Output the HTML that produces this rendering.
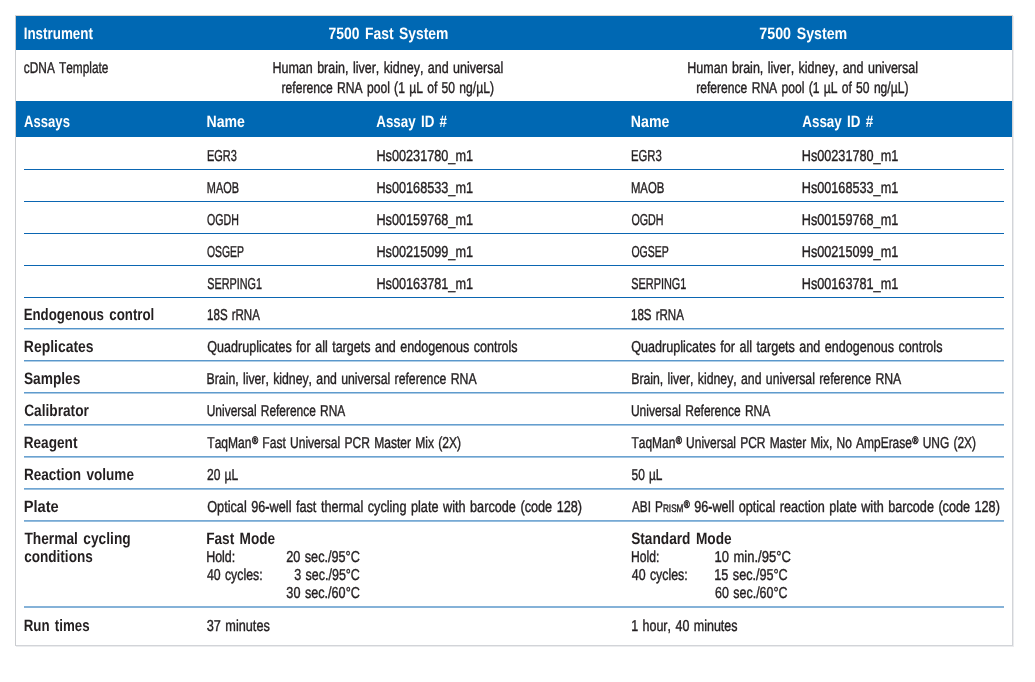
<!DOCTYPE html>
<html lang="en"><head><meta charset="utf-8"><title>7500 Fast System vs 7500 System</title>
<style>
html,body{margin:0;padding:0;background:#fff}
body{width:1035px;height:682px;position:relative;overflow:hidden;font-family:"Liberation Sans",sans-serif;font-size:15.8px;color:#231f20}
.box{position:absolute;left:15px;top:15px;width:996px;height:629px;border:1px solid #d2d4d8;border-top-color:#ddd6d0;border-left-color:#cacccf;box-sizing:content-box;box-shadow:1px 1px 0 #ebecee}
.band{position:absolute;left:16px;width:996px;background:#0068b3}
.ln{position:absolute;left:24px;width:980px;height:1px;background:#0b66b2}
.ll{position:absolute;left:24px;width:980px;height:0}
.t{position:absolute;left:0;top:0;word-spacing:1.2px;font-kerning:none;text-rendering:geometricPrecision;-webkit-text-stroke:0.4px currentColor;white-space:pre;line-height:20px;height:20px;transform-origin:0 0}
.t b{font-weight:700}
.b{font-weight:700;-webkit-text-stroke:0;font-size:16.5px;word-spacing:2px}
.w{color:#fff}
.r{font-size:11px;font-weight:700;position:relative;top:-4.5px;line-height:0;-webkit-text-stroke:0.5px currentColor;margin:0 0 0 0.5px}
.sc{font-size:11px}
</style></head><body>
<div class="box"></div>
<div class="band" style="top:16px;height:34px"></div>
<div class="band" style="top:101px;height:36px"></div>

<div class="ln" style="top:169px"></div>
<div class="ln" style="top:201px"></div>
<div class="ln" style="top:233px"></div>
<div class="ln" style="top:265px"></div>
<div class="ln" style="top:297px"></div>
<div class="ll" style="top:328px;border-top:1px solid #5494c9;border-bottom:1px solid #b6d1e8"></div>
<div class="ll" style="top:360px;border-top:1px solid #5a97cb;border-bottom:1px solid #b0cee6"></div>
<div class="ll" style="top:392px;border-top:1px solid #5f9bcd;border-bottom:1px solid #abcae4"></div>
<div class="ll" style="top:424px;border-top:1px solid #659ece;border-bottom:1px solid #a5c7e3"></div>
<div class="ll" style="top:456px;border-top:1px solid #6ba2d0;border-bottom:1px solid #9fc3e1"></div>
<div class="ll" style="top:488px;border-top:1px solid #70a5d2;border-bottom:1px solid #9ac0df"></div>
<div class="ll" style="top:520px;border-top:1px solid #76a9d4;border-bottom:1px solid #94bcdd"></div>
<div class="ll" style="top:606px;border-top:1px solid #85b2d8;border-bottom:1px solid #85b2d8"></div>
<div id="instr" class="t b w" style="transform:translate(23.72px,24.05px) scaleX(0.8116)">Instrument</div>
<div id="cdna" class="t" style="transform:translate(23.81px,59.45px) scaleX(0.7512)">cDNA Template</div>
<div id="assays" class="t b w" style="transform:translate(24.08px,112.45px) scaleX(0.7930)">Assays</div>
<div id="endo" class="t b" style="transform:translate(23.63px,305.45px) scaleX(0.8043)">Endogenous control</div>
<div id="repl" class="t b" style="transform:translate(23.84px,337.45px) scaleX(0.8454)">Replicates</div>
<div id="samp" class="t b" style="transform:translate(23.88px,369.45px) scaleX(0.8328)">Samples</div>
<div id="calib" class="t b" style="transform:translate(24.18px,401.45px) scaleX(0.8295)">Calibrator</div>
<div id="reag" class="t b" style="transform:translate(23.67px,433.45px) scaleX(0.8256)">Reagent</div>
<div id="rvol" class="t b" style="transform:translate(23.91px,465.45px) scaleX(0.8209)">Reaction volume</div>
<div id="plate" class="t b" style="transform:translate(23.65px,497.45px) scaleX(0.8900)">Plate</div>
<div id="therm" class="t b" style="transform:translate(24.44px,529.45px) scaleX(0.8323)">Thermal cycling</div>
<div id="cond" class="t b" style="transform:translate(24.19px,547.45px) scaleX(0.8219)">conditions</div>
<div id="run" class="t b" style="transform:translate(23.66px,616.05px) scaleX(0.8069)">Run times</div>
<div id="h1" class="t b w" style="transform:translate(328.58px,24.05px) scaleX(0.8409)">7500 Fast System</div>
<div id="h2" class="t b w" style="transform:translate(759.32px,24.05px) scaleX(0.8624)">7500 System</div>
<div id="t1a" class="t" style="transform:translate(272.40px,59.45px) scaleX(0.7921)">Human brain, liver, kidney, and universal</div>
<div id="t1b" class="t" style="transform:translate(281.59px,79.45px) scaleX(0.7670)">reference RNA pool (1 µL of 50 ng/µL)</div>
<div id="t2a" class="t" style="transform:translate(687.27px,59.45px) scaleX(0.7919)">Human brain, liver, kidney, and universal</div>
<div id="t2b" class="t" style="transform:translate(696.17px,79.45px) scaleX(0.7668)">reference RNA pool (1 µL of 50 ng/µL)</div>
<div id="n1" class="t b w" style="transform:translate(206.46px,112.45px) scaleX(0.8543)">Name</div>
<div id="n2" class="t b w" style="transform:translate(630.85px,112.45px) scaleX(0.8569)">Name</div>
<div id="a1" class="t b w" style="transform:translate(376.31px,112.45px) scaleX(0.8087)">Assay ID #</div>
<div id="a2" class="t b w" style="transform:translate(802.29px,112.45px) scaleX(0.8111)">Assay ID #</div>
<div id="g0a" class="t" style="transform:translate(206.92px,147.45px) scaleX(0.6942)">EGR3</div>
<div id="g0b" class="t" style="transform:translate(630.89px,147.45px) scaleX(0.7162)">EGR3</div>
<div id="g0c" class="t" style="transform:translate(376.42px,147.45px) scaleX(0.8027)">Hs00231780_m1</div>
<div id="g0d" class="t" style="transform:translate(801.74px,147.45px) scaleX(0.8022)">Hs00231780_m1</div>
<div id="g1a" class="t" style="transform:translate(206.83px,179.45px) scaleX(0.6909)">MAOB</div>
<div id="g1b" class="t" style="transform:translate(630.92px,179.45px) scaleX(0.7179)">MAOB</div>
<div id="g1c" class="t" style="transform:translate(376.42px,179.45px) scaleX(0.8027)">Hs00168533_m1</div>
<div id="g1d" class="t" style="transform:translate(801.74px,179.45px) scaleX(0.8022)">Hs00168533_m1</div>
<div id="g2a" class="t" style="transform:translate(207.01px,211.45px) scaleX(0.6710)">OGDH</div>
<div id="g2b" class="t" style="transform:translate(631.43px,211.45px) scaleX(0.6782)">OGDH</div>
<div id="g2c" class="t" style="transform:translate(376.42px,211.45px) scaleX(0.8027)">Hs00159768_m1</div>
<div id="g2d" class="t" style="transform:translate(801.74px,211.45px) scaleX(0.8022)">Hs00159768_m1</div>
<div id="g3a" class="t" style="transform:translate(206.96px,243.45px) scaleX(0.6582)">OSGEP</div>
<div id="g3b" class="t" style="transform:translate(631.46px,243.45px) scaleX(0.6638)">OGSEP</div>
<div id="g3c" class="t" style="transform:translate(376.42px,243.45px) scaleX(0.8027)">Hs00215099_m1</div>
<div id="g3d" class="t" style="transform:translate(801.74px,243.45px) scaleX(0.8022)">Hs00215099_m1</div>
<div id="g4a" class="t" style="transform:translate(207.31px,275.45px) scaleX(0.6841)">SERPING1</div>
<div id="g4b" class="t" style="transform:translate(631.22px,275.45px) scaleX(0.6908)">SERPING1</div>
<div id="g4c" class="t" style="transform:translate(376.42px,275.45px) scaleX(0.8027)">Hs00163781_m1</div>
<div id="g4d" class="t" style="transform:translate(801.74px,275.45px) scaleX(0.8022)">Hs00163781_m1</div>
<div id="m0a" class="t" style="transform:translate(207.06px,306.45px) scaleX(0.7306)">18S rRNA</div>
<div id="m0b" class="t" style="transform:translate(630.99px,306.45px) scaleX(0.7319)">18S rRNA</div>
<div id="m1a" class="t" style="transform:translate(207.36px,338.45px) scaleX(0.7936)">Quadruplicates for all targets and endogenous controls</div>
<div id="m1b" class="t" style="transform:translate(631.32px,338.45px) scaleX(0.7958)">Quadruplicates for all targets and endogenous controls</div>
<div id="m2a" class="t" style="transform:translate(206.59px,370.45px) scaleX(0.7761)">Brain, liver, kidney, and universal reference RNA</div>
<div id="m2b" class="t" style="transform:translate(631.20px,370.45px) scaleX(0.7764)">Brain, liver, kidney, and universal reference RNA</div>
<div id="m3a" class="t" style="transform:translate(206.74px,402.45px) scaleX(0.7563)">Universal Reference RNA</div>
<div id="m3b" class="t" style="transform:translate(630.91px,402.45px) scaleX(0.7604)">Universal Reference RNA</div>
<div id="m4a" class="t" style="transform:translate(207.31px,434.45px) scaleX(0.7626)">TaqMan<span class="r">®</span> Fast Universal PCR Master Mix (2X)</div>
<div id="m4b" class="t" style="transform:translate(631.49px,434.45px) scaleX(0.7569)">TaqMan<span class="r">®</span> Universal PCR Master Mix, No AmpErase<span class="r">®</span> UNG (2X)</div>
<div id="m5a" class="t" style="transform:translate(206.94px,466.45px) scaleX(0.7614)">20 µL</div>
<div id="m5b" class="t" style="transform:translate(631.52px,466.45px) scaleX(0.7542)">50 µL</div>
<div id="m6a" class="t" style="transform:translate(207.25px,498.45px) scaleX(0.8034)">Optical 96<b>-</b>well fast thermal cycling plate with barcode (code 128)</div>
<div id="m6b1" class="t" style="transform:translate(631.98px,498.45px) scaleX(0.7446)">ABI P<span class="sc">RISM</span><span class="r">®</span></div>
<div id="m6b2" class="t" style="transform:translate(694.13px,498.45px) scaleX(0.8012)">96<b>-</b>well optical reaction plate with barcode (code 128)</div>
<div id="fm" class="t b" style="transform:translate(206.15px,529.45px) scaleX(0.8261)">Fast Mode</div>
<div id="sm" class="t b" style="transform:translate(631.16px,529.45px) scaleX(0.8294)">Standard Mode</div>
<div id="hold1" class="t" style="transform:translate(206.15px,548.45px) scaleX(0.7895)">Hold:</div>
<div id="hold2" class="t" style="transform:translate(631.04px,548.45px) scaleX(0.7685)">Hold:</div>
<div id="c1a" class="t" style="transform:translate(286.21px,548.45px) scaleX(0.8014)">20 sec./95°C</div>
<div id="c2a" class="t" style="transform:translate(714.40px,548.45px) scaleX(0.8245)">10 min./95°C</div>
<div id="cyc1" class="t" style="transform:translate(206.91px,566.45px) scaleX(0.7796)">40 cycles:</div>
<div id="cyc2" class="t" style="transform:translate(631.78px,566.45px) scaleX(0.7833)">40 cycles:</div>
<div id="c1b" class="t" style="transform:translate(294.22px,566.45px) scaleX(0.7902)">3 sec./95°C</div>
<div id="c2b" class="t" style="transform:translate(714.31px,566.45px) scaleX(0.7996)">15 sec./95°C</div>
<div id="c1c" class="t" style="transform:translate(286.35px,584.45px) scaleX(0.8003)">30 sec./60°C</div>
<div id="c2c" class="t" style="transform:translate(715.07px,584.45px) scaleX(0.7882)">60 sec./60°C</div>
<div id="rt1" class="t" style="transform:translate(206.67px,617.05px) scaleX(0.8048)">37 minutes</div>
<div id="rt2" class="t" style="transform:translate(631.14px,617.05px) scaleX(0.7914)">1 hour, 40 minutes</div>
</body></html>
